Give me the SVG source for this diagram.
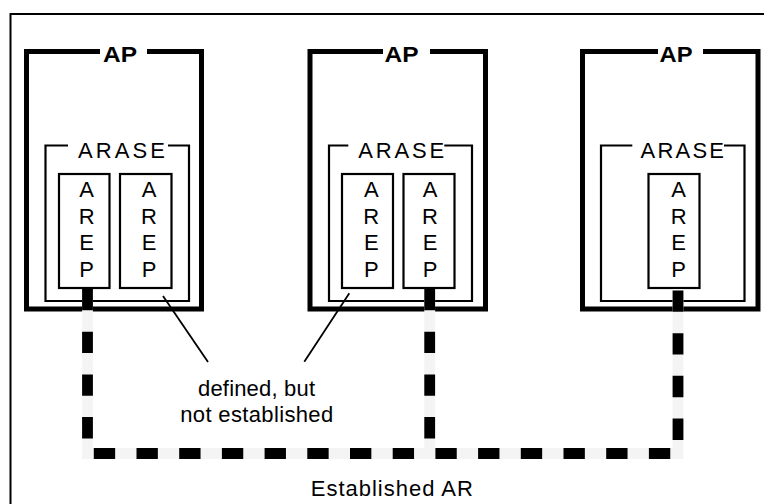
<svg xmlns="http://www.w3.org/2000/svg" width="764" height="504" viewBox="0 0 764 504">
<style>
  .frame{fill:none;stroke:#000;stroke-width:2}
  .ap{fill:none;stroke:#000;stroke-width:5}
  .arase{fill:none;stroke:#000;stroke-width:2.2}
  .arep{fill:#fff;stroke:#000;stroke-width:2.2}
  .t{font-family:"Liberation Sans",Arial,sans-serif;font-size:22px;fill:#000;text-anchor:middle}
  .b{font-weight:bold}
  .lead{fill:none;stroke:#000;stroke-width:1.8}
  .under{fill:none;stroke:#f4f4f4;stroke-width:10.8;stroke-linejoin:miter}
  .dash{fill:none;stroke:#000;stroke-width:10.8;stroke-dasharray:21.35 21.35;stroke-linejoin:miter}
</style>
<rect width="764" height="504" fill="#fff"/>
<path class="frame" d="M764 14 H10.5 V504"/>

<g id="ap1">
  <path class="ap" d="M100 51.5 H26.5 V309 H201.5 V51.5 H147"/>
  <text class="t b" x="120" y="62" textLength="34" lengthAdjust="spacingAndGlyphs">AP</text>
</g>
<g id="arase1">
  <path class="arase" d="M68 145.5 H45.5 V301 H189 V145.5 H168"/>
  <text class="t" x="121.5" y="158.3" textLength="87" lengthAdjust="spacing">ARASE</text>
</g>
<g id="arep1a">
  <rect class="arep" x="59" y="174" width="50.5" height="114"/>
  <g class="t"><text x="86.7" y="197.3">A</text><text x="86.7" y="223.7">R</text><text x="86.7" y="250">E</text><text x="86.7" y="276.5">P</text></g>
</g>
<g id="arep1b">
  <rect class="arep" x="120" y="174" width="51.5" height="114"/>
  <g class="t"><text x="149" y="197.3">A</text><text x="149" y="223.7">R</text><text x="149" y="250">E</text><text x="149" y="276.5">P</text></g>
</g>

<g id="ap2">
  <path class="ap" d="M383 51.5 H310 V309 H485.5 V51.5 H430"/>
  <text class="t b" x="401.5" y="62" textLength="34" lengthAdjust="spacingAndGlyphs">AP</text>
</g>
<g id="arase2">
  <path class="arase" d="M348.3 145.5 H329 V301 H472 V145.5 H444.3"/>
  <text class="t" x="401.3" y="158.3" textLength="86" lengthAdjust="spacing">ARASE</text>
</g>
<g id="arep2a">
  <rect class="arep" x="342" y="174" width="51" height="114"/>
  <g class="t"><text x="371.3" y="197.3">A</text><text x="371.3" y="223.7">R</text><text x="371.3" y="250">E</text><text x="371.3" y="276.5">P</text></g>
</g>
<g id="arep2b">
  <rect class="arep" x="403.5" y="174" width="51" height="114"/>
  <g class="t"><text x="430" y="197.3">A</text><text x="430" y="223.7">R</text><text x="430" y="250">E</text><text x="430" y="276.5">P</text></g>
</g>

<g id="ap3">
  <path class="ap" d="M658 51.5 H582.5 V309 H758 V51.5 H703"/>
  <text class="t b" x="676" y="62" textLength="33" lengthAdjust="spacingAndGlyphs">AP</text>
</g>
<g id="arase3">
  <path class="arase" d="M632.3 145.5 H601 V301 H744.5 V145.5 H724"/>
  <text class="t" x="682.3" y="158.3" textLength="83.5" lengthAdjust="spacing">ARASE</text>
</g>
<g id="arep3">
  <rect class="arep" x="648.5" y="174" width="51" height="114"/>
  <g class="t"><text x="678.7" y="197.3">A</text><text x="678.7" y="223.7">R</text><text x="678.7" y="250">E</text><text x="678.7" y="276.5">P</text></g>
</g>

<g id="connectors">
  <path class="under" d="M87.5 289 V453.5 H678 V289"/>
  <path class="under" d="M429.7 289 V453.5"/>
  <path class="dash" d="M87.5 289 V453.5 H678 V289"/>
  <path class="dash" d="M429.7 289 V453.5"/>
  <line class="lead" x1="163" y1="296" x2="208" y2="362"/>
  <line class="lead" x1="349.3" y1="293.3" x2="304.3" y2="361.7"/>
</g>

<g id="labels">
  <text class="t" x="256.5" y="395.5" font-size="21" textLength="117" lengthAdjust="spacing">defined, but</text>
  <text class="t" x="256.7" y="421.7" font-size="21" textLength="153" lengthAdjust="spacing">not established</text>
  <text class="t" x="391.8" y="495.5" textLength="162" lengthAdjust="spacing">Established AR</text>
</g>
</svg>
